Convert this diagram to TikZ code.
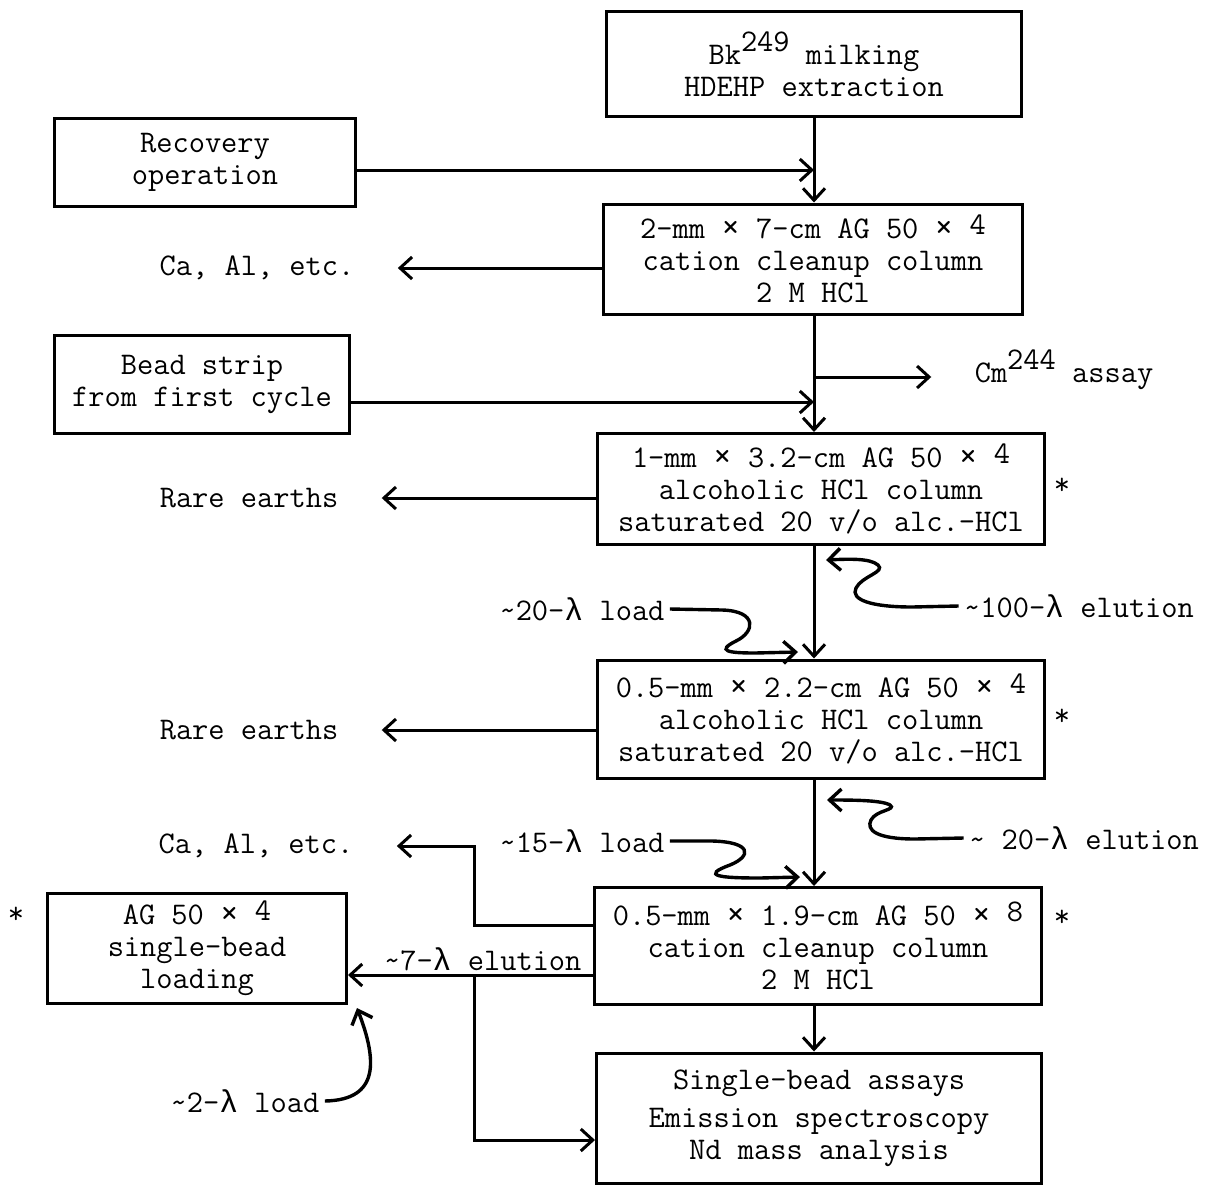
\documentclass[tikz,border=0pt]{standalone}
\usepackage{fontspec}
\usepackage{graphicx}
\usetikzlibrary{arrows.meta,positioning}
\newfontfamily\greekmono{Liberation Mono}
\newcommand{\lam}{{\greekmono λ}}
\newcommand{\tld}{\textasciitilde}
\newcommand{\tms}{\scalebox{1.15}{×}}
\newcommand{\up}[1]{\raisebox{13pt}{#1}}
\newcommand{\hi}[1]{\raisebox{4pt}{#1}}

\begin{document}
\begin{tikzpicture}[x=1pt,y=-1pt,
    font=\fontsize{31.5}{32}\selectfont\ttfamily,
    line width=3pt,
    stepbox/.style={draw,align=center,inner sep=0pt},
    sidetext/.style={inner xsep=42pt},
    labeltext/.style={inner xsep=4pt},
    flow/.style={-{Straight Barb[length=12pt,width=22pt]}},
    squiggle/.style={flow,line width=3.4pt}]
  \useasboundingbox (0,0) rectangle (1205,1184);

  % main column
  \node[stepbox,minimum width=415pt,minimum height=105pt] (milk) at (814,64)
    {Bk\up{249} milking\\HDEHP extraction};
  \node[stepbox,minimum width=419pt,minimum height=110pt] (clean1) at (813,259)
    {2-mm \tms{} 7-cm AG 50 \tms{} \hi{4}\\cation cleanup column\\2 M HCl};
  \node[stepbox,minimum width=447pt,minimum height=111pt] (alc1) at (821,489)
    {1-mm \tms{} 3.2-cm AG 50 \tms{} \hi{4}\\alcoholic HCl column\\saturated 20 v/o alc.-HCl};
  \node[stepbox,minimum width=447pt,minimum height=118pt] (alc2) at (821,719)
    {0.5-mm \tms{} 2.2-cm AG 50 \tms{} \hi{4}\\alcoholic HCl column\\saturated 20 v/o alc.-HCl};
  \node[stepbox,minimum width=447pt,minimum height=117pt] (clean2) at (818,946)
    {0.5-mm \tms{} 1.9-cm AG 50 \tms{} \hi{8}\\cation cleanup column\\2 M HCl};
  \node[stepbox,minimum width=445pt,minimum height=130pt] (assays) at (819,1118)
    {Single-bead assays\\[6pt]Emission spectroscopy\\Nd mass analysis};

  % side boxes
  \node[stepbox,minimum width=301pt,minimum height=88pt] (recov) at (205,162)
    {Recovery\\operation};
  \node[stepbox,minimum width=295pt,minimum height=98pt] (bead) at (202,384)
    {Bead strip\\from first cycle};
  \node[stepbox,minimum width=299pt,minimum height=110pt] (loading) at (197,948)
    {AG 50 \tms{} \hi{4}\\single-bead\\loading};

  % side texts
  \node[sidetext] (waste1) at (257,268) {Ca, Al, etc.};
  \node[sidetext] (rare1) at (249,498) {Rare earths};
  \node[sidetext] (rare2) at (249,730) {Rare earths};
  \node[sidetext] (waste2) at (256,846) {Ca, Al, etc.};
  \node[sidetext] (cm) at (1064,370) {Cm\up{244} assay};
  \node[labeltext] (elu1) at (1079,606) {\tld100-\lam{} elution};
  \node[labeltext] (load1) at (582,609) {\tld20-\lam{} load};
  \node[labeltext] (elu2) at (1084,838) {\tld{} 20-\lam{} elution};
  \node[labeltext] (load2) at (582,841) {\tld15-\lam{} load};
  \node[labeltext] (load3) at (245,1101) {\tld2-\lam{} load};

  \node (star1) at (1062,486) {*};
  \node (star2) at (1062,717) {*};
  \node (star3) at (1062,918) {*};
  \node (star4) at (16,915) {*};

  % connection points
  \coordinate (recout) at ([yshift=-8pt]recov.east);
  \coordinate (beadout) at ([yshift=-18pt]bead.east);
  \coordinate (cmin) at ([yshift=-7pt]cm.west);
  \coordinate (ca2out) at ([yshift=21pt]clean2.west);
  \coordinate (eluout) at ([yshift=-29pt]clean2.west);
  \coordinate (assayin) at ([yshift=-22pt]assays.west);
  \coordinate (split) at (474,975);
  \coordinate (tip1) at (826,560);
  \coordinate (tip2) at (798,652);
  \coordinate (tip3) at (827,800);
  \coordinate (tip4) at (800,877);
  \coordinate (tip5) at (357,1008);

  % trunk
  \draw[flow] (milk.south) -- (milk.south |- clean1.north);
  \draw[flow] (clean1.south -| milk.south) -- (milk.south |- alc1.north);
  \draw[flow] (alc1.south -| milk.south) -- (milk.south |- alc2.north);
  \draw[flow] (alc2.south -| milk.south) -- (milk.south |- clean2.north);
  \draw[flow] (clean2.south -| milk.south) -- (milk.south |- assays.north);

  % feeds and wastes
  \draw[flow] (recout) -- (recout -| milk.south);
  \draw[flow] (beadout) -- (beadout -| milk.south);
  \draw[flow] (cmin -| milk.south) -- (cmin);
  \draw[flow] (waste1 -| clean1.west) -- (waste1.east);
  \draw[flow] (rare1 -| alc1.west) -- (rare1.east);
  \draw[flow] (rare2 -| alc2.west) -- (rare2.east);
  \draw[flow] (ca2out) -- (ca2out -| split) |- (waste2.east);
  \draw[flow] (eluout) -- (eluout -| loading.east)
    node[pos=0.45,above=-1pt]{\tld7-\lam{} elution};
  \draw[flow] (split) |- (assayin);

  % additions
  \draw[squiggle] (elu1.west) -- (912,607)
    .. controls (872,607) and (850,600) .. (856,588)
    .. controls (862,576) and (886,572) .. (878,565)
    .. controls (870,558) and (848,559) .. (tip1);
  \draw[squiggle] (load1.east) -- (722,610)
    .. controls (758,611) and (755,632) .. (736,641)
    .. controls (716,651) and (728,653) .. (755,653) -- (tip2);
  \draw[squiggle] (elu2.west) -- (915,839)
    .. controls (876,839) and (866,830) .. (871,820)
    .. controls (876,810) and (897,810) .. (890,805)
    .. controls (882,800) and (850,800) .. (tip3);
  \draw[squiggle] (load2.east) -- (712,841)
    .. controls (752,842) and (752,856) .. (730,865)
    .. controls (700,876) and (720,878) .. (760,878) -- (tip4);
  \draw[squiggle] (load3.east)
    .. controls (380,1100) and (377,1060) .. (tip5);
\end{tikzpicture}
\end{document}
